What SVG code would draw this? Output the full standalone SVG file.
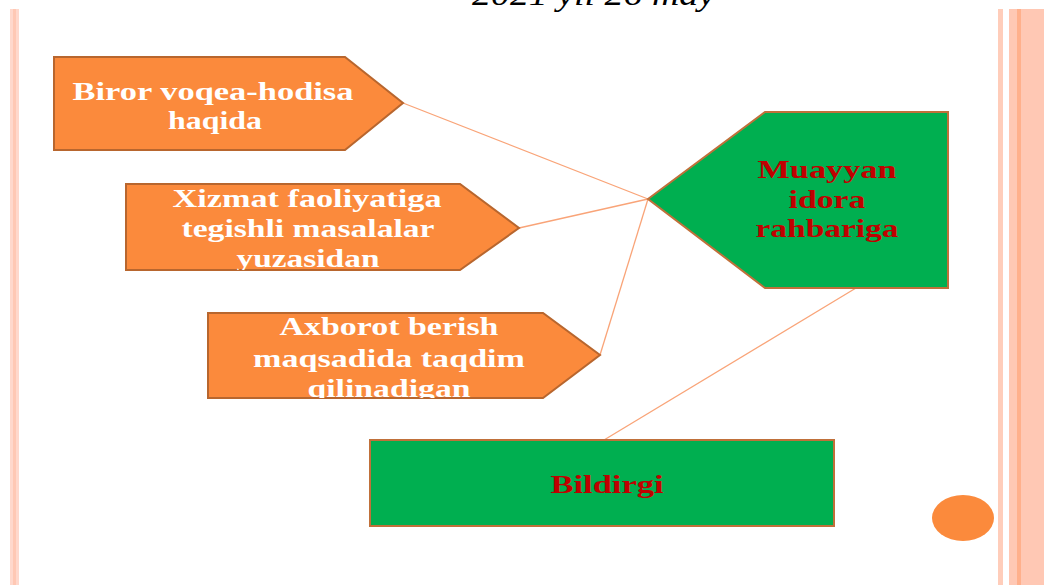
<svg xmlns="http://www.w3.org/2000/svg" width="1048" height="585" viewBox="0 0 1048 585">
<style>
.orange{fill:#FB8A3C;stroke:#B8662E;stroke-width:2}
.green{fill:#00AF50;stroke:#C0703A;stroke-width:2}
.wt{font-family:"Liberation Serif","Times New Roman",serif;font-weight:bold;font-size:26px;fill:#FFFFFF;text-anchor:middle}
.rt{font-family:"Liberation Serif","Times New Roman",serif;font-weight:bold;font-size:25px;fill:#C00000;text-anchor:middle}
.conn{stroke:#F9A478;stroke-width:1.3;fill:none}
</style>
<defs>
<clipPath id="c2"><polygon points="126,184 460,184 519,228 460,270 126,270"/></clipPath>
<clipPath id="c3"><polygon points="208,313 543,313 600,355 543,398 208,398"/></clipPath>
</defs>
<rect x="0" y="0" width="1048" height="585" fill="#FFFFFF"/>
<g id="frame">
<rect x="10" y="9" width="9" height="576" fill="#FFD8CC"/>
<rect x="13" y="9" width="3" height="576" fill="#FFC8B4"/>
<rect x="998" y="9" width="5" height="576" fill="#FFCDBA"/>
<rect x="1009" y="9" width="35" height="576" fill="#FFC8B4"/>
<rect x="1017" y="9" width="4" height="576" fill="#FFB08C"/>
</g>
<text id="title" x="472" y="5" textLength="243" lengthAdjust="spacingAndGlyphs" font-family="Liberation Serif,'Times New Roman',serif" font-style="italic" font-size="32" fill="#000000">2021 yil 26 may</text>
<g id="connectors">
<line class="conn" x1="403" y1="103" x2="648" y2="199"/>
<line class="conn" x1="519" y1="228" x2="648" y2="199"/>
<line class="conn" x1="600" y1="355" x2="648" y2="199"/>
<line class="conn" x1="856" y1="288" x2="604" y2="440"/>
</g>
<g id="node1">
<polygon class="orange" points="54,57 345,57 403,103 345,150 54,150"/>
<text class="wt" x="213" y="100" textLength="281" lengthAdjust="spacingAndGlyphs">Biror voqea-hodisa</text>
<text class="wt" x="215" y="129" textLength="94" lengthAdjust="spacingAndGlyphs">haqida</text>
</g>
<g id="node2">
<polygon class="orange" points="126,184 460,184 519,228 460,270 126,270"/>
<g clip-path="url(#c2)">
<text class="wt" x="307" y="207" textLength="269" lengthAdjust="spacingAndGlyphs">Xizmat faoliyatiga</text>
<text class="wt" x="308" y="237" textLength="253" lengthAdjust="spacingAndGlyphs">tegishli masalalar</text>
<text class="wt" x="308" y="267" textLength="143" lengthAdjust="spacingAndGlyphs">yuzasidan</text>
</g>
</g>
<g id="node3">
<polygon class="orange" points="208,313 543,313 600,355 543,398 208,398"/>
<g clip-path="url(#c3)">
<text class="wt" x="389" y="335" textLength="219" lengthAdjust="spacingAndGlyphs">Axborot berish</text>
<text class="wt" x="389" y="367" textLength="272" lengthAdjust="spacingAndGlyphs">maqsadida taqdim</text>
<text class="wt" x="389" y="397" textLength="163" lengthAdjust="spacingAndGlyphs">qilinadigan</text>
</g>
</g>
<g id="node4">
<polygon class="green" points="648,199 765,112 948,112 948,288 765,288"/>
<text class="rt" x="827" y="178" textLength="139" lengthAdjust="spacingAndGlyphs">Muayyan</text>
<text class="rt" x="827" y="208" textLength="77" lengthAdjust="spacingAndGlyphs">idora</text>
<text class="rt" x="827" y="237" textLength="143" lengthAdjust="spacingAndGlyphs">rahbariga</text>
</g>
<g id="node5">
<rect class="green" x="370" y="440" width="464" height="86"/>
<text class="rt" x="607" y="493" textLength="113" lengthAdjust="spacingAndGlyphs">Bildirgi</text>
</g>
<ellipse id="dot" cx="963" cy="518" rx="31" ry="23" fill="#FB8A3C"/>
</svg>
